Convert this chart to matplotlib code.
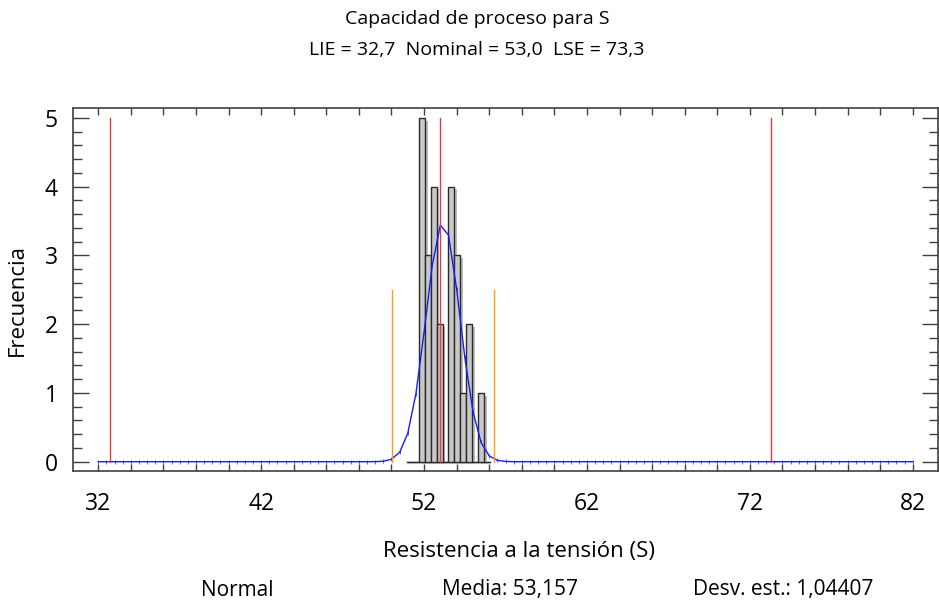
import numpy as np
import matplotlib
matplotlib.use("Agg")
import matplotlib.pyplot as plt
import matplotlib.patheffects as pe
from matplotlib.ticker import MultipleLocator

plt.rcParams['font.family'] = ['Open Sans', 'DejaVu Sans']

# histogram data
hist_lower = 50.95
class_width = 0.3643
counts = [0, 0, 5, 3, 4, 2, 0, 4, 3, 1, 2, 0, 1, 0]

# fitted normal
mean = 53.157
sd = 1.04407
curve_step = 0.5

# specification limits
lie, nominal, lse = 32.7, 53.0, 73.3

xticks = [32, 42, 52, 62, 72, 82]

edges = hist_lower + class_width * np.arange(len(counts) + 1)
n = sum(counts)

fig = plt.figure(figsize=(9.39, 6.08), dpi=100)
ax = fig.add_axes([73 / 939, 1 - 471 / 608, (938 - 73) / 939, (471 - 108) / 608])

# bars with shadow
shadow = [pe.SimplePatchShadow(offset=(2, -2), shadow_rgbFace='#bdbdbd', alpha=1.0), pe.Normal()]
bars = ax.bar(edges[:-1], counts, width=class_width, align='edge',
              color='#c8c8c8', edgecolor='#2a2a2a', linewidth=1.0, zorder=3)
for b in bars:
    b.set_path_effects(shadow)
ax.plot([edges[0], edges[-1]], [0, 0], color='#2a2a2a', lw=1.0, zorder=2)

# normal curve
xc = np.arange(xticks[0], xticks[-1] + curve_step / 2, curve_step)
yc = n * class_width * np.exp(-0.5 * ((xc - mean) / sd) ** 2) / (sd * np.sqrt(2 * np.pi))
ax.plot(xc, yc, color='#1a1aff', lw=1.0, marker='|', markersize=2.5, markeredgewidth=0.5, zorder=5)

# spec limits
for v in (lie, nominal, lse):
    ax.plot([v, v], [0, 5], color='#e8363a', lw=1.0, zorder=6)
for v in (mean - 3 * sd, mean + 3 * sd):
    ax.plot([v, v], [0, 2.5], color='#ff9a1a', lw=1.0, zorder=6)

ax.set_xlim(30.45, 83.55)
ax.set_ylim(-0.135, 5.145)
ax.set_xticks(xticks)
ax.xaxis.set_minor_locator(MultipleLocator(2))
ax.set_yticks(range(6))
ax.yaxis.set_minor_locator(MultipleLocator(0.2))

ax.tick_params(axis='x', which='both', direction='in', top=True, length=5, width=1.0,
               color='#404040', labelsize=16.5, pad=15)
ax.tick_params(axis='y', which='major', direction='in', right=True, length=11.5, width=1.0,
               color='#404040', labelsize=16.5, pad=11)
ax.tick_params(axis='y', which='minor', direction='in', right=True, length=6.5, width=1.0,
               color='#404040')
for s in ax.spines.values():
    s.set_color('#404040')
    s.set_linewidth(1.2)

fig.text(17 / 939, 1 - 300 / 608, 'Frecuencia', rotation=90, ha='center', va='center', fontsize=16)
fig.text(519 / 939, 1 - 551 / 608, 'Resistencia a la tensión (S)', ha='center', va='center', fontsize=16)

fig.text(477 / 939, 1 - 19 / 608, 'Capacidad de proceso para S', ha='center', va='center', fontsize=14)
fig.text(477 / 939, 1 - 50 / 608, 'LIE = 32,7  Nominal = 53,0  LSE = 73,3', ha='center', va='center', fontsize=14)

fig.text(237 / 939, 1 - 590 / 608, 'Normal', ha='center', va='center', fontsize=15)
fig.text(510 / 939, 1 - 590 / 608, 'Media: 53,157', ha='center', va='center', fontsize=15)
fig.text(783 / 939, 1 - 590 / 608, 'Desv. est.: 1,04407', ha='center', va='center', fontsize=15)

fig.savefig('out.png', dpi=100)
